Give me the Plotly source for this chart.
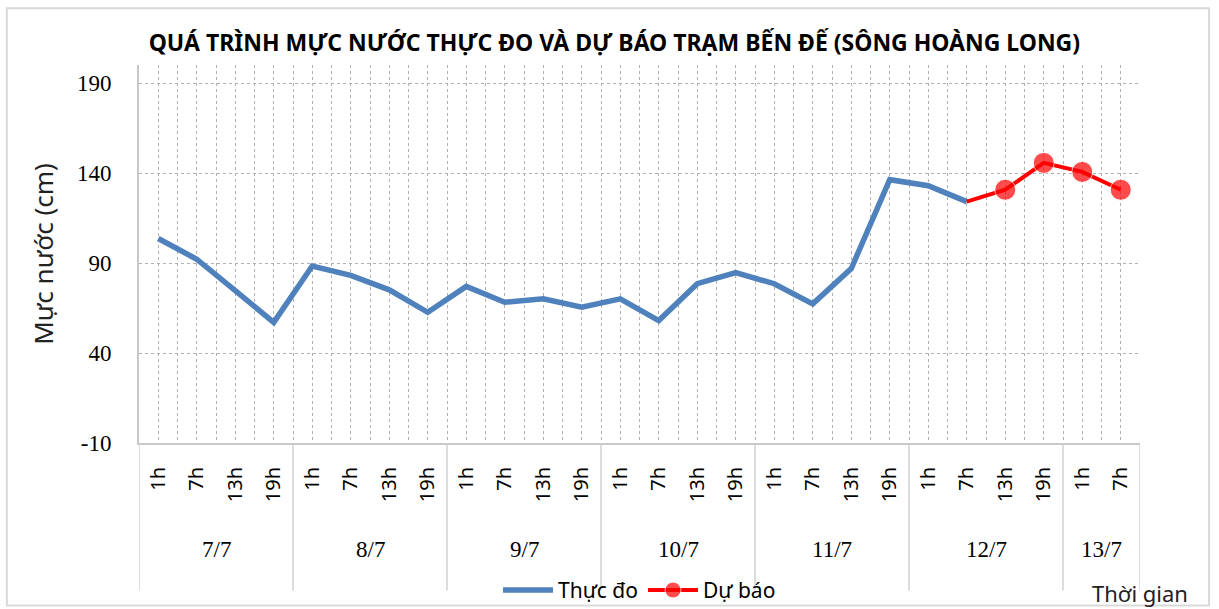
import plotly.graph_objects as go

# ---- data ----
days = ["7/7", "8/7", "9/7", "10/7", "11/7", "12/7", "13/7"]
hours_per_day = [4, 4, 4, 4, 4, 4, 2]
hour_labels = ["1h", "7h", "13h", "19h"] * 6 + ["1h", "7h"]
observed = [103.6, 92.1, 74.6, 57.0, 88.3, 83.1, 75.1, 62.6, 77.0, 68.2, 70.1,
            65.4, 70.1, 58.0, 78.5, 84.6, 78.5, 67.3, 86.9, 136.3, 132.9, 124.1]
forecast = [124.1, 130.7, 145.6, 140.6, 130.7]
y_ticks = [-10, 40, 90, 140, 190]

title_text = "QUÁ TRÌNH MỰC NƯỚC THỰC ĐO VÀ DỰ BÁO TRẠM BẾN ĐẾ (SÔNG HOÀNG LONG)"

# ---- positions derived from data ----
n = len(hour_labels)
x_obs = list(range(len(observed)))
fc_start = len(observed) - 1
x_fc = list(range(fc_start, fc_start + len(forecast)))
fc_sizes = [0] + [21] * (len(forecast) - 1)

boundaries = [-0.5]
for c in hours_per_day:
    boundaries.append(boundaries[-1] + c)

SANS = "Noto Sans"
SERIF = "Liberation Serif"
GRID = "#b0b0b0"

fig = go.Figure()
fig.add_trace(go.Scatter(
    x=x_obs, y=observed, mode="lines", name="Thực đo",
    line=dict(color="#4F81BD", width=5.5)))
fig.add_trace(go.Scatter(
    x=x_fc, y=forecast, mode="lines+markers", name="Dự báo",
    line=dict(color="#FF0000", width=4),
    marker=dict(color="#FF0000", size=fc_sizes)))

shapes = []
for b in boundaries:
    shapes.append(dict(type="line", xref="x", yref="paper", x0=b, x1=b,
                       y0=0, y1=-0.39, line=dict(color="#d0d0d0", width=1.5)))
# outer chart border
shapes.append(dict(type="rect", xref="paper", yref="paper",
                   x0=-0.132, x1=1.069, y0=-0.43, y1=1.15,
                   line=dict(color="#d9d9d9", width=2)))

annotations = []
for i, (d, c) in enumerate(zip(days, hours_per_day)):
    annotations.append(dict(
        x=boundaries[i] + c / 2, y=-0.283, xref="x", yref="paper",
        text=d, showarrow=False, xanchor="center", yanchor="middle",
        font=dict(family=SERIF, size=23, color="#000000")))
annotations.append(dict(
    x=1.0, y=-0.397, xref="paper", yref="paper", text="Thời gian",
    showarrow=False, xanchor="center", yanchor="middle",
    font=dict(family=SANS, size=22, color="#222222")))

fig.update_layout(
    width=1219, height=609,
    margin=dict(l=139, r=79, t=65, b=166, autoexpand=False),
    paper_bgcolor="white", plot_bgcolor="white",
    title=dict(text="<b>" + title_text + "</b>", x=0.504, xanchor="center",
               y=1 - 43 / 609, yanchor="middle", yref="container",
               font=dict(family=SANS, size=23, color="#000000")),
    showlegend=True,
    legend=dict(orientation="h", x=0.5, xanchor="center", y=-0.39,
                yanchor="middle", font=dict(family=SANS, size=21, color="#000000"),
                bgcolor="rgba(0,0,0,0)", itemwidth=50),
    shapes=shapes, annotations=annotations,
    xaxis=dict(
        range=[-0.5, n - 0.5], tickmode="array", automargin=False,
        tickvals=list(range(n)), ticktext=hour_labels, tickangle=-90,
        ticks="", ticklabelstandoff=14,
        tickfont=dict(family=SANS, size=20, color="#000000"),
        showgrid=True, gridcolor=GRID, griddash="dot", gridwidth=1,
        minor=dict(dtick=0.5, tick0=-0.5, showgrid=True, gridcolor=GRID,
                   griddash="dot", gridwidth=1),
        showline=True, linecolor="#c8c8c8", linewidth=2, zeroline=False),
    yaxis=dict(
        range=[-10, 200], tickmode="array", tickvals=y_ticks, automargin=False,
        ticktext=[str(v) for v in y_ticks], ticks="", ticklabelstandoff=21,
        tickfont=dict(family=SERIF, size=23, color="#000000"),
        showgrid=True, gridcolor=GRID, griddash="dot", gridwidth=1,
        showline=True, linecolor="#c8c8c8", linewidth=2, zeroline=False,
        title=dict(text="Mực nước (cm)", standoff=16,
                   font=dict(family=SANS, size=26, color="#222222"))),
)

fig.write_html("out.html", config={"displayModeBar": False},
               post_script="document.body.style.margin='0';")
